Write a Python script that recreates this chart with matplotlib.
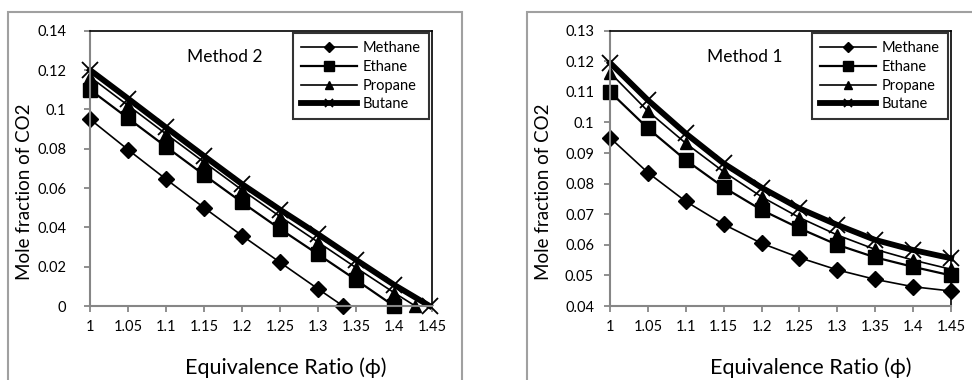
import matplotlib
matplotlib.use('Agg')
import matplotlib.pyplot as plt
from matplotlib.patches import Rectangle

plt.rcParams['font.family'] = ['Lato', 'DejaVu Sans']

# equivalence ratio ticks shared by both panels
phi_ticks = [1, 1.05, 1.1, 1.15, 1.2, 1.25, 1.3, 1.35, 1.4, 1.45]
phi_labels = ['1', '1.05', '1.1', '1.15', '1.2', '1.25', '1.3', '1.35', '1.4', '1.45']

# Method 2 (left panel) - series run down to zero
m2_methane_x = [1, 1.05, 1.1, 1.15, 1.2, 1.25, 1.3, 1.333]
m2_methane_y = [0.095, 0.0795, 0.0645, 0.050, 0.0358, 0.0222, 0.0087, 0]
m2_ethane_x = [1, 1.05, 1.1, 1.15, 1.2, 1.25, 1.3, 1.35, 1.4]
m2_ethane_y = [0.110, 0.0955, 0.081, 0.0667, 0.0527, 0.0392, 0.0263, 0.0133, 0]
m2_propane_x = [1, 1.05, 1.1, 1.15, 1.2, 1.25, 1.3, 1.35, 1.4, 1.428]
m2_propane_y = [0.1165, 0.102, 0.0875, 0.0732, 0.059, 0.0455, 0.0325, 0.0195, 0.0068, 0]
m2_butane_x = [1, 1.05, 1.1, 1.15, 1.2, 1.25, 1.3, 1.35, 1.4, 1.447]
m2_butane_y = [0.120, 0.1055, 0.0908, 0.0763, 0.062, 0.049, 0.0365, 0.0235, 0.0108, 0]

# Method 1 (right panel)
m1_x = phi_ticks
m1_methane_y = [0.095, 0.0836, 0.0742, 0.0667, 0.0605, 0.0558, 0.0518, 0.0487, 0.0463, 0.0449]
m1_ethane_y = [0.110, 0.0981, 0.0877, 0.0788, 0.0714, 0.0654, 0.0600, 0.0559, 0.0528, 0.0500]
m1_propane_y = [0.1163, 0.1037, 0.0932, 0.0839, 0.0757, 0.0689, 0.0632, 0.0585, 0.0550, 0.0520]
m1_butane_y = [0.1195, 0.1073, 0.0964, 0.0866, 0.0787, 0.0719, 0.0665, 0.0616, 0.0583, 0.0556]

left_yticks = [0, 0.02, 0.04, 0.06, 0.08, 0.1, 0.12, 0.14]
left_ylabels = ['0', '0.02', '0.04', '0.06', '0.08', '0.1', '0.12', '0.14']
right_yticks = [0.04, 0.05, 0.06, 0.07, 0.08, 0.09, 0.1, 0.11, 0.12, 0.13]
right_ylabels = ['0.04', '0.05', '0.06', '0.07', '0.08', '0.09', '0.1', '0.11', '0.12', '0.13']

W, H = 972, 380
fig = plt.figure(figsize=(9.72, 3.8), dpi=100)
gray = '#868686'

# outer chart borders (Excel chart area)
fig.patches.append(Rectangle((8 / W, -0.05), (462 - 8) / W, 1.05 - 12 / H,
                             transform=fig.transFigure, fill=False, ec='#a0a0a0', lw=1.5))
fig.patches.append(Rectangle((527 / W, -0.05), 0.5, 1.05 - 12 / H,
                             transform=fig.transFigure, fill=False, ec='#a0a0a0', lw=1.5))

ax1 = fig.add_axes([90 / W, 1 - 306 / H, (432 - 90) / W, (306 - 30.7) / H])
ax2 = fig.add_axes([610 / W, 1 - 306 / H, (951 - 610) / W, (306 - 30.7) / H])


def draw(ax, series):
    styles = [
        dict(marker='D', ms=8, lw=1.2, label='Methane'),
        dict(marker='s', ms=10, lw=1.6, label='Ethane'),
        dict(marker='^', ms=9, lw=1.2, label='Propane'),
        dict(marker='x', ms=12, mew=1.3, lw=4.2, label='Butane'),
    ]
    for (x, y), st in zip(series, styles):
        ax.plot(x, y, color='black', clip_on=False, **st)


draw(ax1, [(m2_methane_x, m2_methane_y), (m2_ethane_x, m2_ethane_y),
           (m2_propane_x, m2_propane_y), (m2_butane_x, m2_butane_y)])
draw(ax2, [(m1_x, m1_methane_y), (m1_x, m1_ethane_y),
           (m1_x, m1_propane_y), (m1_x, m1_butane_y)])

for ax, yt, yl, ypad, txt in [(ax1, left_yticks, left_ylabels, 13, 'Method 2'),
                              (ax2, right_yticks, right_ylabels, 7.5, 'Method 1')]:
    ax.set_xlim(1, 1.45)
    ax.set_ylim(yt[0], yt[-1])
    ax.set_xticks(phi_ticks)
    ax.set_xticklabels(phi_labels)
    ax.set_yticks(yt)
    ax.set_yticklabels(yl)
    ax.tick_params(axis='x', direction='out', length=4, width=1.3, color=gray,
                   labelsize=10.5, pad=6)
    ax.tick_params(axis='y', direction='out', length=4, width=1.3, color=gray,
                   labelsize=10.5, pad=ypad)
    ax.spines['left'].set_color(gray)
    ax.spines['bottom'].set_color(gray)
    ax.spines['left'].set_linewidth(1.5)
    ax.spines['bottom'].set_linewidth(1.5)
    ax.spines['top'].set_linewidth(1.2)
    ax.spines['right'].set_linewidth(1.2)
    ax.text(0.285, 0.905, txt, transform=ax.transAxes, fontsize=12.5, ha='left', va='center')

    leg = ax.legend(loc='upper right', bbox_to_anchor=(0.99, 0.99), fontsize=10.5,
                    frameon=True, fancybox=False, edgecolor='black', borderpad=0.55,
                    handlelength=3.8, handletextpad=0.4, labelspacing=0.32,
                    borderaxespad=0)
    leg.get_frame().set_linewidth(1.5)
    for ln, ms in zip(leg.get_lines(), [5, 7, 6, 6]):
        ln.set_markersize(ms)

# axis titles placed like in the Excel charts
for cx in [25, 543]:
    fig.text(cx / W, 1 - 192 / H, 'Mole fraction of CO2', rotation=90,
             ha='center', va='center', fontsize=13.5)
for cx in [286, 811]:
    fig.text(cx / W, 1 - 368 / H, 'Equivalence Ratio (ϕ)',
             ha='center', va='center', fontsize=15.5)

fig.savefig('out.png', dpi=100)
